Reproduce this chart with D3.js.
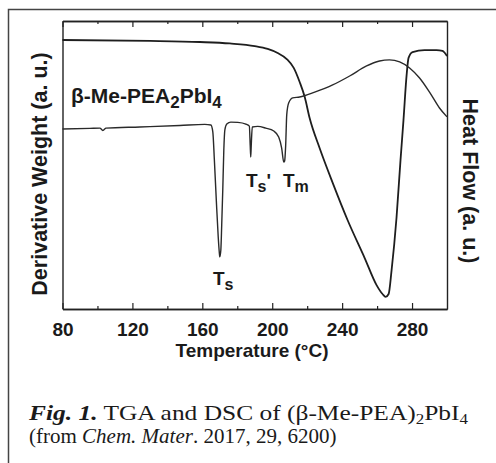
<!DOCTYPE html>
<html>
<head>
<meta charset="utf-8">
<script src="https://cdn.jsdelivr.net/npm/d3@7"></script>
<style>
  body { margin: 0; background: #fff; }
  svg { display: block; }
  .lbl { font-family: "Liberation Sans", Arial, sans-serif; font-weight: bold; fill: #1a1a1a; }
  .cap { font-family: "Liberation Serif", "Times New Roman", serif; fill: #1a1a1a; }
</style>
</head>
<body>
<div class="chart"></div>
<script>
// temperature axis
const majorTicks = [80, 120, 160, 200, 240, 280];
const minorTicks = [100, 140, 180, 220, 260];

// derivative weight curve (left axis, a.u.)
const tempA = [80, 130, 158.6, 175.7, 190, 197.4, 203.1, 208.3, 212.3, 215.7,
  218.6, 221.4, 227.1, 234.6, 243.1, 252.9, 259.7, 263.1, 264.9, 266.6,
  268.3, 271.1, 273.4, 275.1, 276.9, 278, 280.3, 287.1, 294, 297.4, 300];
const derivWeight = [93.4, 93.1, 92.7, 92.2, 91.3, 90.3, 88.9, 86.8, 83.7, 78.8,
  73.6, 66.3, 55.9, 43.8, 30.9, 17.7, 8.3, 5.2, 4.2, 5.2,
  13.5, 31.6, 51.7, 65.6, 81.3, 87.2, 89.2, 89.9, 89.9, 89.6, 87.8];

// DSC curve (right axis, a.u.)
const tempB = [80, 95.7, 101.4, 103.1, 104.9, 124.3, 147.1, 161.4, 164.9, 166,
  166.9, 168, 169.1, 169.7, 170, 170.6, 171.1, 171.7, 172.3, 172.9,
  174, 176.3, 180.3, 184.9, 186.9, 187.4, 187.7, 188, 188.6, 191.7,
  196.3, 200.9, 203.7, 205.4, 206.6, 207.1, 207.7, 208.3, 209.4, 211.7,
  215.7, 224.3, 234.6, 244.3, 254, 261.4, 267.1, 272.9, 278.6, 284.3,
  290, 295.7, 300];
const heatFlow = [62.5, 62.7, 62.8, 62.0, 62.8, 63.2, 63.7, 64.1, 63.9, 61.5,
  51.7, 37.8, 25, 19.8, 18.1, 20.5, 29.2, 41.3, 55.2, 62.2,
  64.2, 64.9, 64.8, 64.2, 63.5, 56.9, 52.8, 56.9, 63.2, 63.4,
  62.8, 61.8, 59.7, 55.9, 51, 51.4, 56.9, 67.4, 71.5, 73.3,
  73.6, 75.3, 77.8, 80.9, 84.4, 86.1, 86.5, 85.8, 83.7, 80.2,
  75.3, 69.8, 66.7];

// peak labels
const peakNames = ["T", "T", "T"];
const peakSubs = ["s", "s", "m"];
const peakPrimes = ["", "'", ""];

const width = 496, height = 463;
const plotL = 62.5, plotR = 447, plotT = 21, plotB = 309;

const svg = d3.select(".chart").append("svg")
  .attr("width", width).attr("height", height);

// outer frame (top and left edge of the scanned box)
svg.append("path")
  .attr("d", "M8.5,463 L8.5,9.5 L496,9.5")
  .attr("fill", "none").attr("stroke", "#444").attr("stroke-width", 1.5);

const x = d3.scaleLinear().domain([80, 300]).range([plotL, plotR]);
const yL = d3.scaleLinear().domain([0, 100]).range([plotB, plotT]);
const yR = d3.scaleLinear().domain([0, 100]).range([plotB, plotT]);

// axes
const gx = svg.append("g")
  .attr("transform", "translate(0," + plotB + ")")
  .call(d3.axisBottom(x).tickValues(majorTicks).tickSize(-6).tickSizeOuter(0).tickPadding(14));
gx.selectAll("text")
  .style("font-family", "'Liberation Sans', Arial, sans-serif")
  .style("font-weight", "bold").style("font-size", "19px")
  .attr("fill", "#1a1a1a");

svg.append("g").attr("transform", "translate(0," + plotB + ")")
  .call(d3.axisBottom(x).tickValues(minorTicks).tickSize(-3).tickSizeOuter(0).tickFormat(""));

svg.append("g").attr("transform", "translate(0," + plotT + ")")
  .call(d3.axisTop(x).tickValues(majorTicks).tickSize(-6).tickSizeOuter(0).tickFormat(""));
svg.append("g").attr("transform", "translate(0," + plotT + ")")
  .call(d3.axisTop(x).tickValues(minorTicks).tickSize(-3).tickSizeOuter(0).tickFormat(""));

svg.append("g").attr("transform", "translate(" + plotL + ",0)")
  .call(d3.axisLeft(yL).tickValues([]).tickSizeOuter(0));
svg.append("g").attr("transform", "translate(" + plotR + ",0)")
  .call(d3.axisRight(yR).tickValues([]).tickSizeOuter(0));

svg.selectAll(".domain").attr("stroke", "#222").attr("stroke-width", 1.4);
svg.selectAll(".tick line").attr("stroke", "#222").attr("stroke-width", 1.2);

// curves
const lineA = d3.line()
  .x((d, i) => x(tempA[i]))
  .y(d => yL(d))
  .curve(d3.curveMonotoneX);
const lineB = d3.line()
  .x((d, i) => x(tempB[i]))
  .y(d => yR(d))
  .curve(d3.curveMonotoneX);

svg.append("path").datum(derivWeight)
  .attr("d", lineA).attr("fill", "none")
  .attr("stroke", "#1e1e1e").attr("stroke-width", 1.8);
svg.append("path").datum(heatFlow)
  .attr("d", lineB).attr("fill", "none")
  .attr("stroke", "#2a2a2a").attr("stroke-width", 1.4);

// sample label
const sample = svg.append("text").attr("class", "lbl")
  .attr("x", 71).attr("y", 103).style("font-size", "21px");
sample.append("tspan").text("β-Me-PEA");
sample.append("tspan").attr("dy", 5).style("font-size", "17px").text("2");
sample.append("tspan").attr("dy", -5).text("PbI");
sample.append("tspan").attr("dy", 5).style("font-size", "17px").text("4");

// peak labels
const labelPos = [[213, 285], [246, 187], [283, 187]];
peakNames.forEach((n, i) => {
  const t = svg.append("text").attr("class", "lbl")
    .attr("x", labelPos[i][0]).attr("y", labelPos[i][1])
    .style("font-size", "19px");
  t.append("tspan").text(n);
  t.append("tspan").attr("dy", 5).style("font-size", "16px").text(peakSubs[i]);
  if (peakPrimes[i]) t.append("tspan").attr("dy", -5).text(peakPrimes[i]);
});

// axis titles
svg.append("text").attr("class", "lbl")
  .attr("x", 252).attr("y", 357).attr("text-anchor", "middle")
  .style("font-size", "19px").text("Temperature (°C)");

svg.append("text").attr("class", "lbl")
  .attr("transform", "translate(47,174) rotate(-90)")
  .attr("text-anchor", "middle").style("font-size", "21.5px")
  .text("Derivative Weight (a. u.)");

svg.append("text").attr("class", "lbl")
  .attr("transform", "translate(463,181) rotate(90)")
  .attr("text-anchor", "middle").style("font-size", "21.5px")
  .text("Heat Flow (a. u.)");

// caption (first line is stretched to the column width, like the scan)
const cap1 = svg.append("text").attr("class", "cap")
  .attr("x", 29).attr("y", 420).style("font-size", "21px")
  .attr("textLength", 439).attr("lengthAdjust", "spacingAndGlyphs");
cap1.append("tspan").style("font-weight", "bold").style("font-style", "italic").text("Fig. 1.");
cap1.append("tspan").text(" TGA and DSC of (β-Me-PEA)");
cap1.append("tspan").attr("dy", 4).style("font-size", "14px").text("2");
cap1.append("tspan").attr("dy", -4).text("PbI");
cap1.append("tspan").attr("dy", 4).style("font-size", "14px").text("4");

const cap2 = svg.append("text").attr("class", "cap")
  .attr("x", 29).attr("y", 443).style("font-size", "21px");
cap2.append("tspan").text("(from ");
cap2.append("tspan").style("font-style", "italic").text("Chem. Mater");
cap2.append("tspan").text(". 2017, 29, 6200)");
</script>
</body>
</html>
